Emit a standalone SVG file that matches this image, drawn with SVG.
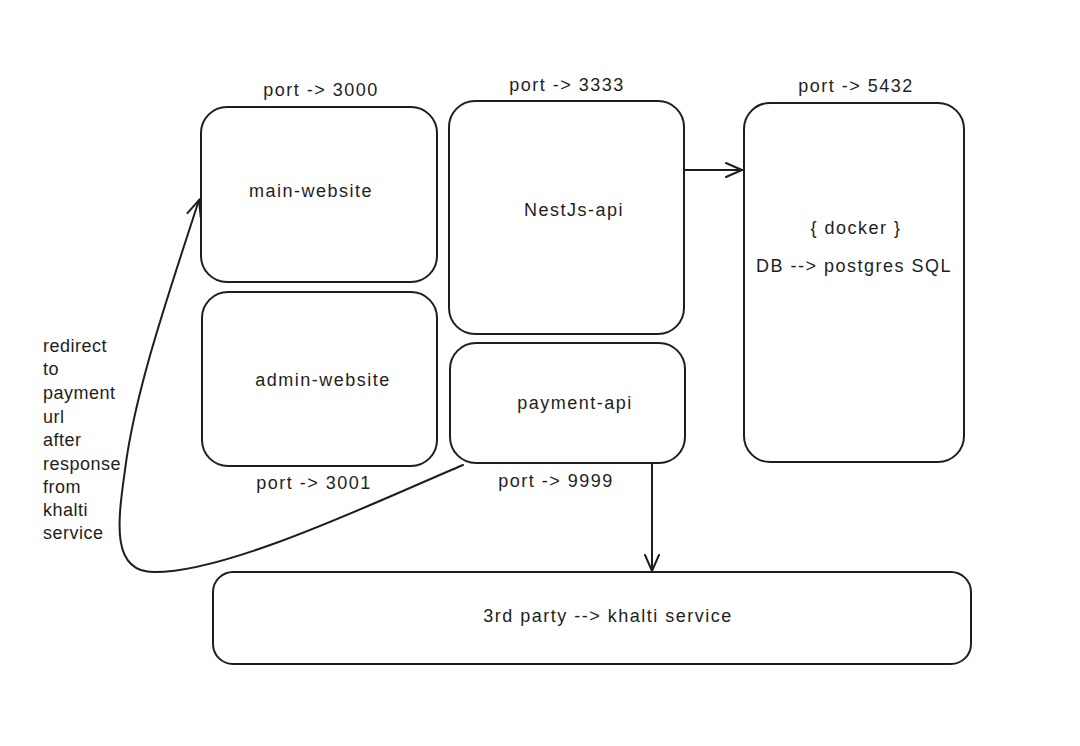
<svg xmlns="http://www.w3.org/2000/svg" width="1080" height="746" viewBox="0 0 1080 746">
<defs>
<style>
.box{fill:#fff;stroke:#1e1e1e;stroke-width:2}
.t{font-family:"Liberation Sans",Arial,sans-serif;font-size:18px;fill:#1e1e1e;letter-spacing:1.5px}
.n{letter-spacing:0.5px}
.c{text-anchor:middle}
.ln{fill:none;stroke:#1e1e1e;stroke-width:2;stroke-linecap:round}
</style>
<marker id="ah" viewBox="0 0 20 20" refX="18" refY="10" markerWidth="20" markerHeight="20" markerUnits="userSpaceOnUse" orient="auto">
<path d="M2,3 L18,10 L2,17" fill="none" stroke="#1e1e1e" stroke-width="2" stroke-linecap="round"/>
</marker>
</defs>
<rect width="1080" height="746" fill="#fff"/>
<g id="main-website">
<rect class="box" x="201" y="107" width="236" height="175" rx="26"/>
<text class="t c" x="311" y="197">main-website</text>
<text class="t c" x="321" y="96">port -&gt; 3000</text>
</g>
<g id="nestjs-api">
<rect class="box" x="449" y="101" width="235" height="233" rx="26"/>
<text class="t c" x="574" y="216">NestJs-api</text>
<text class="t c" x="567" y="91">port -&gt; 3333</text>
</g>
<g id="db">
<rect class="box" x="744" y="103" width="220" height="359" rx="26"/>
<text class="t c" x="856" y="234">{ docker }</text>
<text class="t c" x="854" y="272">DB --&gt; postgres SQL</text>
<text class="t c" x="856" y="92">port -&gt; 5432</text>
</g>
<g id="admin-website">
<rect class="box" x="202" y="292" width="235" height="174" rx="26"/>
<text class="t c" x="323" y="386">admin-website</text>
<text class="t c" x="314" y="489">port -&gt; 3001</text>
</g>
<g id="payment-api">
<rect class="box" x="450" y="343" width="235" height="120" rx="26"/>
<text class="t c" x="575" y="409">payment-api</text>
<text class="t c" x="556" y="487">port -&gt; 9999</text>
</g>
<g id="khalti">
<rect class="box" x="213" y="572" width="758" height="92" rx="20"/>
<text class="t c" x="608" y="622">3rd party --&gt; khalti service</text>
</g>
<g id="note">
<text class="t n" x="43" y="352">redirect</text>
<text class="t n" x="43" y="375">to</text>
<text class="t n" x="43" y="399">payment</text>
<text class="t n" x="43" y="423">url</text>
<text class="t n" x="43" y="446">after</text>
<text class="t n" x="43" y="470">response</text>
<text class="t n" x="43" y="493">from</text>
<text class="t n" x="43" y="516">khalti</text>
<text class="t n" x="43" y="539">service</text>
</g>
<g id="connectors">
<path class="ln" d="M685,170 L742,170" marker-end="url(#ah)"/>
<path class="ln" d="M652,463 L652,571" marker-end="url(#ah)"/>
<path class="ln" d="M463,465 C380,500 230,572 155,572 C110,573 118,520 125,470 C135,390 170,290 199,200" marker-end="url(#ah)"/>
</g>
</svg>
